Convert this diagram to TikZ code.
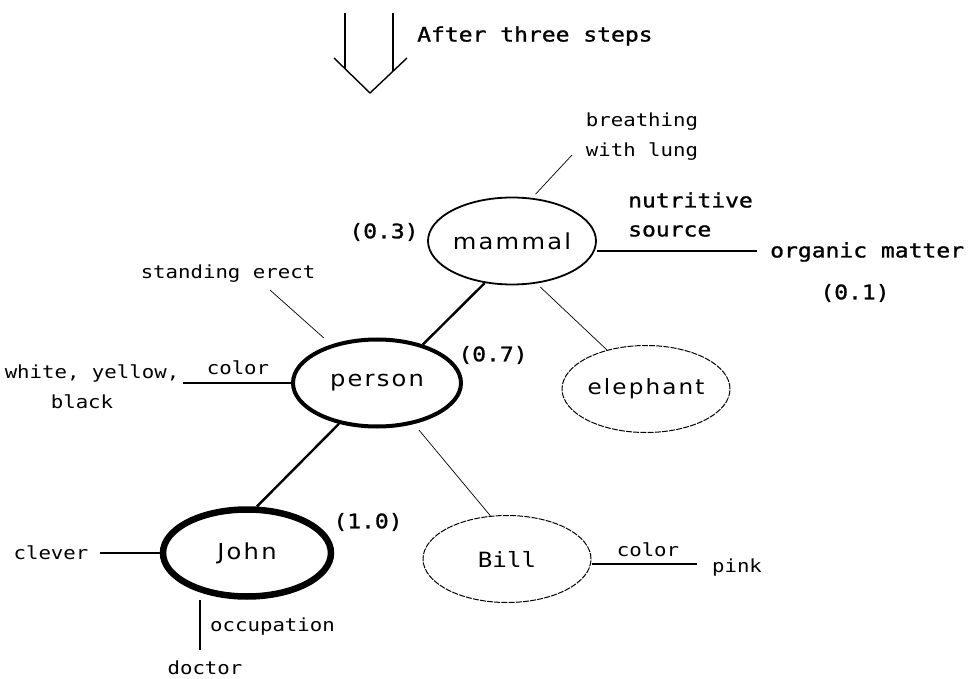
\documentclass[tikz,border=0pt]{standalone}
\usepackage{fontspec}
\usetikzlibrary{shapes.geometric,calc}
\newfontfamily\monolab[FakeStretch=1.15]{DejaVu Sans Mono}
\newfontfamily\monostrong[FakeStretch=1.15,FakeBold=1.2]{DejaVu Sans Mono}
\newfontfamily\nodelab[FakeStretch=1.1,LetterSpace=10]{DejaVu Sans}

\tikzset{
  concept/.style={ellipse, draw, minimum width=168pt, minimum height=87pt,
    inner sep=0pt, font=\nodelab\fontsize{22}{24}\selectfont},
  mammalbox/.style={concept, line width=1.8pt},
  personbox/.style={concept, line width=4pt},
  johnbox/.style={concept, line width=6.5pt},
  otherbox/.style={concept, line width=1pt, dash pattern=on 6pt off 1.2pt},
  strong/.style={font=\monostrong\fontsize{20}{29}\selectfont, inner sep=0pt},
  faint/.style={font=\monolab\fontsize{18}{30}\selectfont, inner sep=0pt},
  thinlink/.style={line width=0.7pt},
  thicklink/.style={line width=2.4pt},
  attrlink/.style={line width=1.2pt},
}

\begin{document}
\begin{tikzpicture}[x=1pt,y=-1pt]
\useasboundingbox (0,0) rectangle (978,679);

% open down arrow with its caption
\draw[line width=1.4pt] (345,13) -- (345,68.7);
\draw[line width=1.4pt] (393,13) -- (393,71.2);
\draw[line width=1.4pt] (334,58) -- (370,93) -- (407,58);
\node[strong, anchor=west] (caption) at (417,36) {After three steps};

% concept nodes
\node[mammalbox] (mammal) at (512,241) {mammal};
\node[personbox] (person) at (377,383) {person};
\node[otherbox, font=\nodelab\fontsize{21}{24}\selectfont] (elephant) at (646,389) {elephant};
\node[johnbox] (john) at (247,553) {John};
\node[otherbox, font=\monolab\fontsize{21}{24}\selectfont] (bill) at (507,559) {Bill};

% weights
\node[strong] (w03) at (384,232) {(0.3)};
\node[strong] (w07) at (493,355) {(0.7)};
\node[strong] (w10) at (368,522) {(1.0)};
\node[strong] (w01) at (855,293) {(0.1)};

% attribute labels
\node[faint, align=center] (breath) at (642,137) {breathing\\with lung};
\node[strong, align=left, anchor=west] (nutri) at (628,214.5) {nutritive\\source};
\node[strong, anchor=west] (organic) at (770,252) {organic matter};
\node[faint] (erect) at (228,274) {standing erect};
\node[faint, align=center] (skin) at (92,387) {white, yellow,\\black\hspace*{20pt}};
\node[faint] (pcolor) at (238,368) {color};
\node[faint] (clever) at (51,553) {clever};
\node[faint, anchor=west] (occup) at (210,627) {occupation};
\node[faint] (doctor) at (205,668) {doctor};
\node[faint] (bcolor) at (648,550) {color};
\node[faint] (pink) at (737,568) {pink};

% free ends of attribute links
\coordinate (breathend) at (572,155);
\coordinate (organicend) at (757,251);
\coordinate (erectend) at (270,290);
\coordinate (skinend) at (183,383);
\coordinate (cleverend) at (100,553);
\coordinate (doctorend) at (200,650);
\coordinate (pinkend) at (697,564);

% class links
\draw[thicklink] (mammal.237) -- (person.40);
\draw[thicklink] (person.227) -- (john.78);
\draw[thinlink, shorten <=5pt] (mammal.300) -- (elephant.135);
\draw[thinlink, shorten <=8pt] (person.312) -- (bill.111);

% attribute links
\draw[thinlink, shorten >=5pt] (breathend) -- (mammal.65);
\draw[line width=1.8pt] (organicend -| mammal.east) -- (organicend);
\draw[thinlink, shorten >=10pt] (erectend) -- (person.140);
\draw[attrlink] (skinend) -- (person.west);
\draw[attrlink] (cleverend) -- (john.west);
\draw[attrlink] (doctorend) -- (doctorend |- john.south);
\draw[attrlink] (pinkend -| bill.east) -- (pinkend);
\end{tikzpicture}
\end{document}
